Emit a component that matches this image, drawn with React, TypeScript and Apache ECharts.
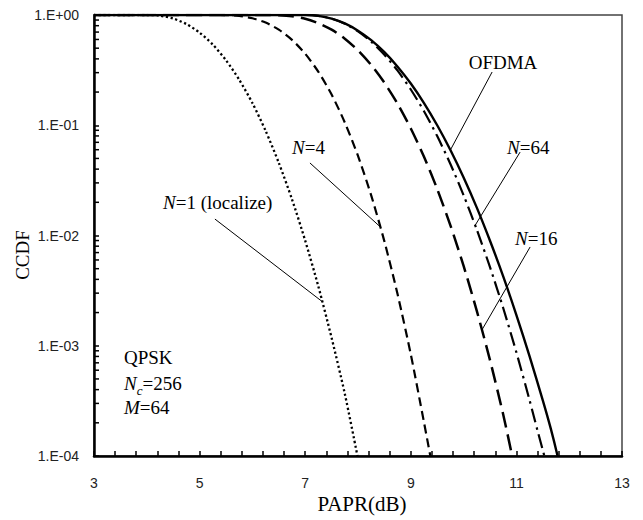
import React, { useEffect, useRef } from 'react';
import * as echarts from 'echarts';

// PAPR (dB) / CCDF readings for each curve
const OFDMA_PAPR = [3, 7.0, 7.25, 7.5, 7.75, 8.0, 8.25, 8.5, 8.75, 9.0, 9.25, 9.5, 9.75, 10.0, 10.25, 10.5, 10.75, 11.0, 11.25, 11.5, 11.65, 11.78];
const OFDMA_CCDF = [1, 1, 0.983, 0.928, 0.838, 0.721, 0.591, 0.46, 0.34, 0.239, 0.159, 0.1, 0.0596, 0.0336, 0.0179, 0.00896, 0.00426, 0.0019, 8.0e-4, 3.2e-4, 1.78e-4, 1e-4];

const N64_PAPR = [3, 7.0, 7.25, 7.5, 7.75, 8.0, 8.25, 8.5, 8.75, 9.0, 9.25, 9.5, 9.75, 10.0, 10.25, 10.5, 10.75, 11.0, 11.25, 11.4, 11.53];
const N64_CCDF = [1, 1, 0.983, 0.927, 0.833, 0.71, 0.573, 0.436, 0.313, 0.211, 0.134, 0.0797, 0.0445, 0.0232, 0.0113, 0.00516, 0.0022, 8.7e-4, 3.2e-4, 1.7e-4, 1e-4];

const N16_PAPR = [3, 6.3, 6.5, 6.75, 7.0, 7.25, 7.5, 7.75, 8.0, 8.25, 8.5, 8.75, 9.0, 9.25, 9.5, 9.75, 10.0, 10.25, 10.5, 10.75, 10.92];
const N16_CCDF = [1, 1, 0.9966, 0.974, 0.924, 0.843, 0.736, 0.61, 0.478, 0.352, 0.243, 0.1565, 0.0935, 0.0518, 0.0264, 0.01236, 0.0053, 0.00207, 7.4e-4, 2.38e-4, 1e-4];

const N4_PAPR = [3, 5.25, 5.5, 5.75, 6.0, 6.25, 6.5, 6.75, 7.0, 7.25, 7.5, 7.75, 8.0, 8.25, 8.5, 8.75, 9.0, 9.25, 9.37];
const N4_CCDF = [1, 1, 0.998, 0.98, 0.934, 0.853, 0.736, 0.595, 0.445, 0.305, 0.19, 0.106, 0.0527, 0.0231, 0.00884, 0.00293, 8.35e-4, 2.02e-4, 1e-4];

const N1_PAPR = [3, 4.0, 4.25, 4.5, 4.75, 5.0, 5.25, 5.5, 5.75, 6.0, 6.25, 6.5, 6.75, 7.0, 7.25, 7.5, 7.75, 7.99];
const N1_CCDF = [1, 1, 0.985, 0.929, 0.828, 0.692, 0.539, 0.389, 0.259, 0.159, 0.0891, 0.0456, 0.0213, 0.00898, 0.00344, 0.00118, 3.67e-4, 1e-4];

// Arrow annotations: [fromPAPR, fromCCDF, toPAPR, toCCDF]
const ARROWS = [
  [10.54, 0.304, 9.75, 0.0596],
  [11.07, 0.0571, 10.22, 0.0124],
  [11.26, 0.00787, 10.35, 0.0014],
  [7.09, 0.0455, 8.42, 0.012],
  [5.29, 0.0141, 7.33, 0.0025],
];

const X_MIN = 3;
const X_MAX = 13;
const X_INTERVAL = 2;
const Y_MIN = 1e-4;
const Y_MAX = 1;

const Y_MINOR: number[] = [];
for (let d = -4; d <= -1; d++) {
  for (let k = 2; k <= 9; k++) Y_MINOR.push(k * Math.pow(10, d));
}

const SERIF = '"Liberation Serif", "Times New Roman", serif';
const SANS = '"Liberation Sans", Arial, sans-serif';

const pairs = (xs: number[], ys: number[]) => xs.map((x, i) => [x, ys[i]]);

const fmtY = (v: number) => {
  const e = Math.round(Math.log10(v));
  return '1.E' + (e >= 0 ? '+' : '-') + String(Math.abs(e)).padStart(2, '0');
};

const lineSeries = (name: string, xs: number[], ys: number[], style: any) => ({
  name,
  type: 'line',
  data: pairs(xs, ys),
  showSymbol: false,
  symbol: 'none',
  smooth: 0.25,
  lineStyle: { color: '#000', ...style },
  z: 3,
});

const rich = {
  i: { fontStyle: 'italic', fontFamily: SERIF, fontSize: 19, fill: '#000' },
  s: { fontStyle: 'italic', fontFamily: SERIF, fontSize: 13, fill: '#000', verticalAlign: 'bottom', lineHeight: 28 },
};

const label = (x: number, y: number, text: string, align = 'left') => ({
  type: 'text',
  x,
  y,
  style: {
    text,
    rich,
    fontFamily: SERIF,
    fontSize: 19,
    fill: '#000',
    align,
    verticalAlign: 'middle',
  },
  z: 10,
});

export default function App() {
  const ref = useRef<HTMLDivElement>(null);
  useEffect(() => {
    const chart = echarts.init(ref.current!, null, { renderer: 'svg' });
    chart.setOption({
      animation: false,
      backgroundColor: '#fff',
      grid: {
        left: 94,
        right: 21,
        top: 15,
        bottom: 64,
        show: true,
        borderColor: '#444',
        borderWidth: 1.5,
        backgroundColor: 'transparent',
      },
      xAxis: {
        type: 'value',
        min: X_MIN,
        max: X_MAX,
        interval: X_INTERVAL,
        axisLine: { show: true, onZero: false, lineStyle: { color: '#000', width: 2.5 } },
        axisTick: { show: true, inside: true, length: 5, lineStyle: { color: '#000', width: 1.5 } },
        minorTick: { show: true, splitNumber: 5, length: 5, lineStyle: { color: '#000', width: 1.5 } },
        splitLine: { show: false },
        axisLabel: { margin: 20, fontFamily: SANS, fontSize: 14, color: '#222' },
      },
      yAxis: {
        type: 'log',
        logBase: 10,
        min: Y_MIN,
        max: Y_MAX,
        axisLine: { show: true, onZero: false, lineStyle: { color: '#000', width: 2.5 } },
        axisTick: { show: true, inside: true, length: 5, lineStyle: { color: '#000', width: 1.5 } },
        splitLine: { show: false },
        axisLabel: { margin: 15, fontFamily: SANS, fontSize: 14, color: '#222', formatter: fmtY },
      },
      graphic: [
        {
          type: 'text',
          x: 22,
          y: 255,
          rotation: Math.PI / 2,
          style: { text: 'CCDF', fontFamily: SERIF, fontSize: 19, fill: '#000', align: 'center', verticalAlign: 'middle' },
        },
        {
          type: 'text',
          x: 362,
          y: 504,
          style: { text: 'PAPR(dB)', fontFamily: SERIF, fontSize: 21, fill: '#000', align: 'center', verticalAlign: 'middle' },
        },
        label(503, 62, 'OFDMA', 'center'),
        label(507, 147, '{i|N}=64'),
        label(515, 238, '{i|N}=16'),
        label(292, 147, '{i|N}=4'),
        label(163, 202, '{i|N}=1 (localize)'),
        label(124, 357, 'QPSK'),
        label(124, 383, '{i|N}{s|c}=256'),
        label(124, 407, '{i|M}=64'),
      ],
      series: [
        lineSeries('OFDMA', OFDMA_PAPR, OFDMA_CCDF, { width: 2.4, type: 'solid' }),
        lineSeries('N=64', N64_PAPR, N64_CCDF, { width: 2.2, type: [14, 5, 2.5, 5] }),
        lineSeries('N=16', N16_PAPR, N16_CCDF, { width: 2.5, type: [16, 7] }),
        lineSeries('N=4', N4_PAPR, N4_CCDF, { width: 2.2, type: [9, 5] }),
        lineSeries('N=1 (localize)', N1_PAPR, N1_CCDF, { width: 2.3, type: [2.2, 2.6] }),
        {
          name: 'minorTicks',
          type: 'custom',
          data: Y_MINOR.map((v) => [X_MIN, v]),
          renderItem: (_params: any, api: any) => {
            const p = api.coord([api.value(0), api.value(1)]);
            return {
              type: 'line',
              shape: { x1: p[0], y1: p[1], x2: p[0] + 5, y2: p[1] },
              style: { stroke: '#000', lineWidth: 1.5 },
            };
          },
          silent: true,
          z: 4,
        },
        {
          name: 'arrows',
          type: 'line',
          data: [],
          silent: true,
          markLine: {
            silent: true,
            symbol: ['none', 'arrow'],
            symbolSize: [0, 11],
            label: { show: false },
            lineStyle: { color: '#000', width: 1, type: 'solid' },
            data: ARROWS.map((a) => [{ coord: [a[0], a[1]] }, { coord: [a[2], a[3]] }]),
          },
        },
      ],
    });
    return () => chart.dispose();
  }, []);
  return <div ref={ref} style={{ position: 'fixed', left: 0, top: 0, width: 643, height: 520 }} />;
}
